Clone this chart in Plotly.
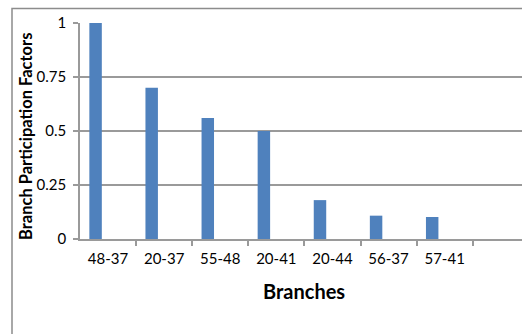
import plotly.graph_objects as go

# Branch participation factors per branch
branches = ["48-37", "20-37", "55-48", "20-41", "20-44", "56-37", "57-41"]
factors = [1.0, 0.70, 0.56, 0.50, 0.18, 0.108, 0.102]

y_ticks = [0, 0.25, 0.5, 0.75, 1]
y_tick_text = ["0", "0.25", "0.5", "0.75", "1"]

W, H = 522, 334
L, R, T, B = 80, 0, 23, 95
plot_w = W - L - R
plot_h = H - T - B

# category slot geometry (clustered layout, gap width 150%)
n_slots = 3
gap = 1.5
bar_w = 1.0 / (n_slots + gap)
bar_offset = -n_slots * bar_w / 2

xpos = list(range(len(branches)))
boundaries = [i + 0.5 for i in range(len(branches) + 1)]

grid_col = "#9a9a9a"
font_family = "Lato, 'Open Sans', sans-serif"

fig = go.Figure(
    go.Bar(
        x=xpos,
        y=factors,
        width=bar_w,
        offset=bar_offset,
        marker=dict(color="#4F81BD", line=dict(width=0)),
        hoverinfo="skip",
    )
)

cat_px = 56.1
x_max = (plot_w) / cat_px - 0.5

fig.update_layout(
    width=W,
    height=H,
    margin=dict(l=L, r=R, t=T, b=B),
    paper_bgcolor="white",
    plot_bgcolor="white",
    showlegend=False,
    font=dict(family=font_family, size=15, color="#000000"),
    xaxis=dict(
        range=[-0.5, x_max],
        tickmode="array",
        tickvals=xpos,
        ticktext=branches,
        ticks="",
        showgrid=False,
        showline=True,
        linecolor=grid_col,
        linewidth=1.5,
        zeroline=False,
        tickfont=dict(size=15),
        ticklabelstandoff=5,
        minor=dict(
            tickmode="array",
            tickvals=boundaries,
            ticks="outside",
            ticklen=5,
            tickcolor=grid_col,
            tickwidth=1.5,
            showgrid=False,
        ),
        fixedrange=True,
    ),
    yaxis=dict(
        range=[0, 1],
        tickmode="array",
        tickvals=y_ticks,
        ticktext=y_tick_text,
        ticks="outside",
        ticklen=5,
        tickcolor=grid_col,
        tickwidth=1.5,
        showgrid=True,
        gridcolor=grid_col,
        gridwidth=1.5,
        showline=True,
        linecolor=grid_col,
        linewidth=1.5,
        zeroline=False,
        tickfont=dict(size=15),
        ticklabelstandoff=4,
        fixedrange=True,
    ),
    shapes=[
        # chart area border
        dict(
            type="rect",
            xref="paper",
            yref="paper",
            x0=(12 - L) / plot_w,
            x1=1.3,
            y0=-1.0,
            y1=(T + plot_h - 8.5) / plot_h,
            line=dict(color="#8c8c8c", width=1.5),
            fillcolor="rgba(0,0,0,0)",
            layer="below",
        )
    ],
    annotations=[
        dict(
            text="<b>Branches</b>",
            xref="paper",
            yref="paper",
            x=(303.5 - L) / plot_w,
            y=(T + plot_h - 291) / plot_h,
            xanchor="center",
            yanchor="middle",
            showarrow=False,
            font=dict(size=20, family=font_family, color="#000000"),
        ),
        dict(
            text="<b>Branch Participation Factors</b>",
            xref="paper",
            yref="paper",
            x=(26 - L) / plot_w,
            y=(T + plot_h - 137) / plot_h,
            xanchor="center",
            yanchor="middle",
            textangle=-90,
            showarrow=False,
            font=dict(size=16.5, family=font_family, color="#000000"),
        ),
    ],
)

fig.write_html("out.html", config={"displayModeBar": False})
